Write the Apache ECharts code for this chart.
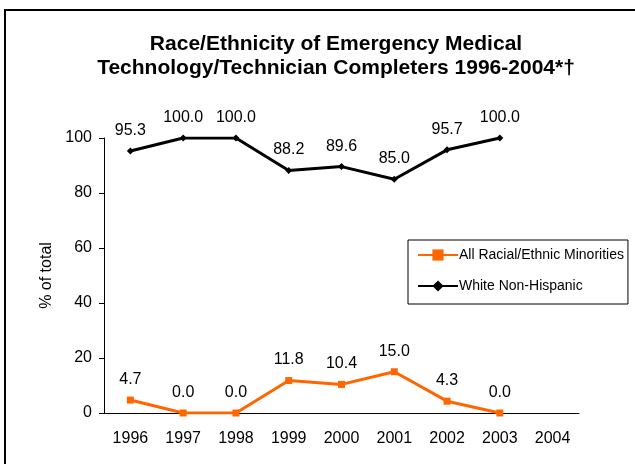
<!DOCTYPE html>
<html>
<head>
<meta charset="utf-8">
<script src="https://cdn.jsdelivr.net/npm/echarts@6/dist/echarts.min.js"></script>
<style>
html, body { margin: 0; padding: 0; background: #fff; }
#chart { width: 635px; height: 464px; }
</style>
</head>
<body>
<div id="chart"></div>
<script>
const years = ['1996', '1997', '1998', '1999', '2000', '2001', '2002', '2003', '2004'];
const minorities = [4.7, 0.0, 0.0, 11.8, 10.4, 15.0, 4.3, 0.0, null];
const whiteNonHispanic = [95.3, 100.0, 100.0, 88.2, 89.6, 85.0, 95.7, 100.0, null];

const font = '"Liberation Sans", Arial, sans-serif';
const chart = echarts.init(document.getElementById('chart'));

function valueLabel() {
    return {
        show: true,
        position: 'top',
        distance: 9,
        fontFamily: font,
        fontSize: 16,
        color: '#000',
        formatter: p => p.value == null ? '' : p.value.toFixed(1)
    };
}

chart.setOption({
    animation: false,
    title: {
        text: 'Race/Ethnicity of Emergency Medical\nTechnology/Technician Completers 1996-2004*\u2020',
        left: 331,
        textAlign: 'center',
        top: 27,
        textStyle: { fontFamily: font, fontSize: 21, fontWeight: 'bold', color: '#000', lineHeight: 24 }
    },
    graphic: [{
        type: 'rect',
        shape: { x: 5, y: 10, width: 700, height: 500 },
        style: { fill: 'none', stroke: '#000', lineWidth: 2 },
        silent: true
    }],
    legend: {
        orient: 'vertical',
        left: 408,
        top: 240,
        padding: [8, 4, 11, 9],
        itemWidth: 40,
        itemHeight: 14,
        itemGap: 17,
        borderColor: '#000',
        borderWidth: 1,
        textStyle: { fontFamily: font, fontSize: 14, color: '#000', padding: [0, 0, 0, -4] },
        data: ['All Racial/Ethnic Minorities', 'White Non-Hispanic']
    },
    grid: { left: 104, right: 56, top: 138, bottom: 51 },
    xAxis: {
        type: 'category',
        data: years,
        axisLine: { lineStyle: { color: '#000', width: 1 } },
        axisTick: { show: false },
        axisLabel: { fontFamily: font, fontSize: 16, color: '#000', margin: 18 }
    },
    yAxis: {
        type: 'value',
        position: 'left',
        min: 0,
        max: 100,
        interval: 20,
        name: '% of total',
        nameLocation: 'middle',
        nameGap: 48,
        nameTextStyle: { fontFamily: font, fontSize: 16, color: '#000' },
        axisLine: { show: true, onZero: false, lineStyle: { color: '#000', width: 1 } },
        axisTick: { show: true, inside: false, length: 5, lineStyle: { color: '#000', width: 1 } },
        splitLine: { show: false },
        axisLabel: { fontFamily: font, fontSize: 16, color: '#000', margin: 12 }
    },
    series: [
        {
            name: 'All Racial/Ethnic Minorities',
            type: 'line',
            data: minorities,
            color: '#FF6600',
            symbol: 'rect',
            symbolSize: 7,
            lineStyle: { width: 3, color: '#FF6600' },
            itemStyle: { color: '#FF6600' },
            label: valueLabel()
        },
        {
            name: 'White Non-Hispanic',
            type: 'line',
            data: whiteNonHispanic,
            color: '#000',
            symbol: 'diamond',
            symbolSize: 7,
            lineStyle: { width: 3, color: '#000' },
            itemStyle: { color: '#000' },
            label: valueLabel()
        }
    ]
});
</script>
</body>
</html>
